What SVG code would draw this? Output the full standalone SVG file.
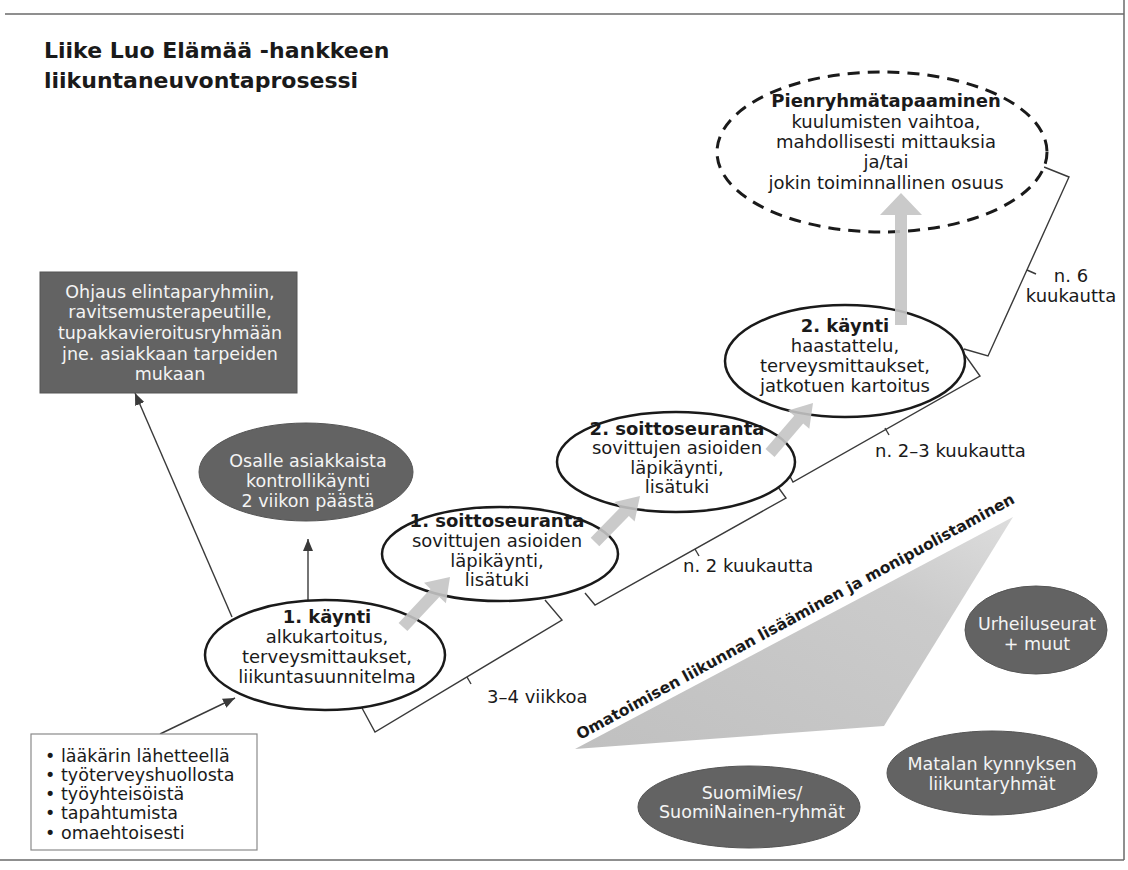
<svg xmlns="http://www.w3.org/2000/svg" width="1128" height="870" viewBox="0 0 1128 870">
<defs>
<style>
text{font-family:"DejaVu Sans",Verdana,sans-serif;fill:#1a1a1a}
.t{font-size:18px;text-anchor:middle}
.s{font-size:17.5px}
.b{font-weight:bold}
.w{fill:#f4f4f4}
.ell{fill:#fff;stroke:#1a1a1a;stroke-width:2.5}
.dash{fill:#fff;stroke:#1a1a1a;stroke-width:3;stroke-dasharray:12 8}
.dark{fill:#636363;stroke:#555;stroke-width:1}
.line{fill:none;stroke:#3a3a3a;stroke-width:1.4}
.garrow{fill:#c4c4c4;fill-opacity:0.9}
.frame{stroke:#6a6a6a;stroke-width:1.5}
</style>
<marker id="ah" viewBox="0 0 12 10" refX="12" refY="5" markerWidth="12" markerHeight="10" markerUnits="userSpaceOnUse" orient="auto"><path d="M0,0 L12,5 L0,10 z" fill="#3a3a3a"/></marker>
<linearGradient id="tg" x1="0" y1="1" x2="1" y2="0"><stop offset="0" stop-color="#c0c0c0"/><stop offset="0.7" stop-color="#cbcbcb"/><stop offset="1" stop-color="#dddddd"/></linearGradient>
</defs>
<rect width="1128" height="870" fill="#fff"/>
<g id="frame" class="frame">
<line x1="5" y1="14" x2="1124" y2="14"/>
<line x1="1124" y1="0" x2="1124" y2="860"/>
<line x1="0" y1="860" x2="1124" y2="860"/>
</g>
<g id="title">
<text x="44" y="58" class="b" font-size="22">Liike Luo Elämää -hankkeen</text>
<text x="44" y="88" class="b" font-size="22">liikuntaneuvontaprosessi</text>
</g>

<g id="band">
<polygon points="575,749 1013,517 884,726" fill="url(#tg)"/>
<text x="580" y="740" class="b" font-size="15.5" transform="rotate(-28.6 580 740)">Omatoimisen liikunnan lisääminen ja monipuolistaminen</text>
</g>

<g id="connectors">
<line class="line" x1="160" y1="734" x2="235" y2="698" marker-end="url(#ah)"/>
<line class="line" x1="308" y1="600" x2="308" y2="539" marker-end="url(#ah)"/>
<line class="line" x1="232" y1="617" x2="135" y2="393" marker-end="url(#ah)"/>
<polyline class="line" points="362,708 375,732 562,620 545,600"/>
<line class="line" x1="467" y1="677" x2="471" y2="684"/>
<polyline class="line" points="585,593 595,605 786,498 778,487"/>
<line class="line" x1="695" y1="549" x2="699" y2="556"/>
<polyline class="line" points="787,471 793,482 980,376 965,355"/>
<line class="line" x1="885" y1="428" x2="889" y2="435"/>
<polyline class="line" points="964,349 988,356 1069,177 1044,167"/>
<line class="line" x1="1027" y1="270" x2="1036" y2="274"/>
</g>

<g id="n-pienryhma">
<ellipse class="dash" cx="882" cy="152" rx="165" ry="80"/>
<text class="t b" x="886" y="107">Pienryhmätapaaminen</text>
<text class="t" x="886" y="128">kuulumisten vaihtoa,</text>
<text class="t" x="886" y="148">mahdollisesti mittauksia</text>
<text class="t" x="886" y="168">ja/tai</text>
<text class="t" x="886" y="189">jokin toiminnallinen osuus</text>
</g>

<g id="n-kaynti2">
<ellipse class="ell" cx="845" cy="361" rx="120" ry="56"/>
<text class="t b" x="845" y="332">2. käynti</text>
<text class="t" x="845" y="352">haastattelu,</text>
<text class="t" x="845" y="372">terveysmittaukset,</text>
<text class="t" x="845" y="392">jatkotuen kartoitus</text>
</g>

<g id="n-soitto2">
<ellipse class="ell" cx="676" cy="462" rx="119" ry="50"/>
<text class="t b" x="677" y="435">2. soittoseuranta</text>
<text class="t" x="677" y="454">sovittujen asioiden</text>
<text class="t" x="677" y="474">läpikäynti,</text>
<text class="t" x="677" y="493">lisätuki</text>
</g>

<g id="n-soitto1">
<ellipse class="ell" cx="500" cy="554" rx="118" ry="47"/>
<text class="t b" x="497" y="527">1. soittoseuranta</text>
<text class="t" x="497" y="547">sovittujen asioiden</text>
<text class="t" x="497" y="567">läpikäynti,</text>
<text class="t" x="497" y="586">lisätuki</text>
</g>

<g id="n-kaynti1">
<ellipse class="ell" cx="325" cy="655" rx="120" ry="55"/>
<text class="t b" x="327" y="623">1. käynti</text>
<text class="t" x="327" y="643">alkukartoitus,</text>
<text class="t" x="327" y="663">terveysmittaukset,</text>
<text class="t" x="327" y="683">liikuntasuunnitelma</text>
</g>

<g id="progress-arrows">
<polygon class="garrow" points="407.4,631.1 439.3,597.1 445.9,603.3 450,577 424.0,582.7 430.5,588.9 398.6,622.9"/>
<polygon class="garrow" points="599.3,546.2 628.9,515.9 634.6,521.5 640,496 614.6,501.9 620.3,507.5 590.7,537.8"/>
<polygon class="garrow" points="774.5,456.9 803.2,423.6 809.3,428.8 813,403 788.1,410.6 794.2,415.8 765.5,449.1"/>
<polygon class="garrow" points="895,325 895,215 880,215 901,193 922,215 907,215 907,325"/>
</g>

<g id="n-osalle">
<ellipse class="dark" cx="306" cy="472" rx="107" ry="49"/>
<text class="t s w" x="308" y="467">Osalle asiakkaista</text>
<text class="t s w" x="308" y="487">kontrollikäynti</text>
<text class="t s w" x="308" y="507">2 viikon päästä</text>
</g>

<g id="n-ohjaus">
<rect class="dark" x="40" y="272" width="257" height="121"/>
<text class="t s w" x="170" y="298">Ohjaus elintaparyhmiin,</text>
<text class="t s w" x="170" y="318">ravitsemusterapeutille,</text>
<text class="t s w" x="170" y="339">tupakkavieroitusryhmään</text>
<text class="t s w" x="170" y="360">jne. asiakkaan tarpeiden</text>
<text class="t s w" x="170" y="380">mukaan</text>
</g>

<g id="n-lahteet">
<rect x="31" y="734" width="226" height="116" fill="#fff" stroke="#8a8a8a" stroke-width="1.2"/>
<text class="s" x="45" y="762">•</text><text class="s" x="61" y="762">lääkärin lähetteellä</text>
<text class="s" x="45" y="781">•</text><text class="s" x="61" y="781">työterveyshuollosta</text>
<text class="s" x="45" y="800">•</text><text class="s" x="61" y="800">työyhteisöistä</text>
<text class="s" x="45" y="819">•</text><text class="s" x="61" y="819">tapahtumista</text>
<text class="s" x="45" y="839">•</text><text class="s" x="61" y="839">omaehtoisesti</text>
</g>

<g id="labels">
<text x="487" y="703" font-size="18">3–4 viikkoa</text>
<text x="683" y="572" font-size="18">n. 2 kuukautta</text>
<text x="875" y="457" font-size="18">n. 2–3 kuukautta</text>
<text x="1071" y="282" font-size="18" text-anchor="middle">n. 6</text>
<text x="1071" y="302" font-size="18" text-anchor="middle">kuukautta</text>
</g>

<g id="n-urheilu">
<ellipse class="dark" cx="1036" cy="630" rx="71" ry="44"/>
<text class="t s w" x="1037" y="630">Urheiluseurat</text>
<text class="t s w" x="1037" y="650">+ muut</text>
</g>

<g id="n-matala">
<ellipse class="dark" cx="992" cy="773" rx="105" ry="42"/>
<text class="t s w" x="992" y="770">Matalan kynnyksen</text>
<text class="t s w" x="992" y="790">liikuntaryhmät</text>
</g>

<g id="n-suomi">
<ellipse class="dark" cx="749" cy="807" rx="111" ry="41"/>
<text class="t s w" x="752" y="799">SuomiMies/</text>
<text class="t s w" x="752" y="818">SuomiNainen-ryhmät</text>
</g>
</svg>
